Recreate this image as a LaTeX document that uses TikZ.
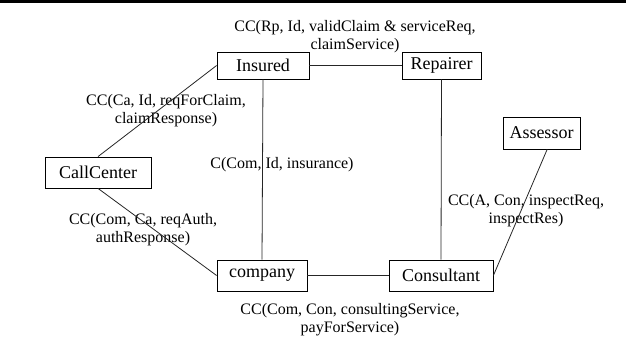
\documentclass[tikz,border=0pt]{standalone}
\usepackage{fontspec}
\setmainfont{Liberation Serif}
\begin{document}
\begin{tikzpicture}[x=1pt,y=-1pt,
  ent/.style={draw=black,line width=0.8pt,fill=white,inner sep=0pt,font=\fontsize{18}{20}\selectfont},
  lbl/.style={inner sep=0pt,align=center,font=\fontsize{16}{18}\selectfont},
  conn/.style={draw=black!85,line width=0.8pt}]
\useasboundingbox (0,0) rectangle (626,343);
\fill[black] (0,0) rectangle (626,3);
% entities
\node[ent,minimum width=92pt,minimum height=27pt] (ins) at (263,65.5) {Insured};
\node[ent,minimum width=79pt,minimum height=27pt] (rep) at (441.5,65.5) {Repairer};
\node[ent,minimum width=77pt,minimum height=32pt] (ass) at (541.5,133) {Assessor};
\node[ent,minimum width=106pt,minimum height=31pt] (cal) at (98,172.5) {CallCenter};
\node[ent,minimum width=90pt,minimum height=31pt] (com) at (262,275.5) {company};
\node[ent,minimum width=104pt,minimum height=31pt] (con) at (441,275.5) {Consultant};
% labels
\node[lbl] (l1) at (355,36.5) {CC(Rp, Id, validClaim \& serviceReq,\\claimService)};
\node[lbl] (l2) at (166,110.5) {CC(Ca, Id, reqForClaim,\\claimResponse)};
\node[lbl] (l3) at (282,165) {C(Com, Id, insurance)};
\node[lbl] (l4) at (143,229.5) {CC(Com, Ca, reqAuth,\\authResponse)};
\node[lbl] (l5) at (526,210.5) {CC(A, Con, inspectReq,\\inspectRes)};
\node[lbl] (l6) at (350,319.5) {CC(Com, Con, consultingService,\\payForService)};
% connectors
\draw[conn] (ins.east) -- (rep.west);
\draw[conn] (ins.south) -- (com.north);
\draw[conn] (rep.south) -- (con.north);
\draw[conn] (cal.north) -- (ins.west);
\draw[conn] (cal.south) -- (com.west);
\draw[conn] (com.east) -- (con.west);
\draw[conn] (ass.-71) -- (con.east);
\end{tikzpicture}
\end{document}
